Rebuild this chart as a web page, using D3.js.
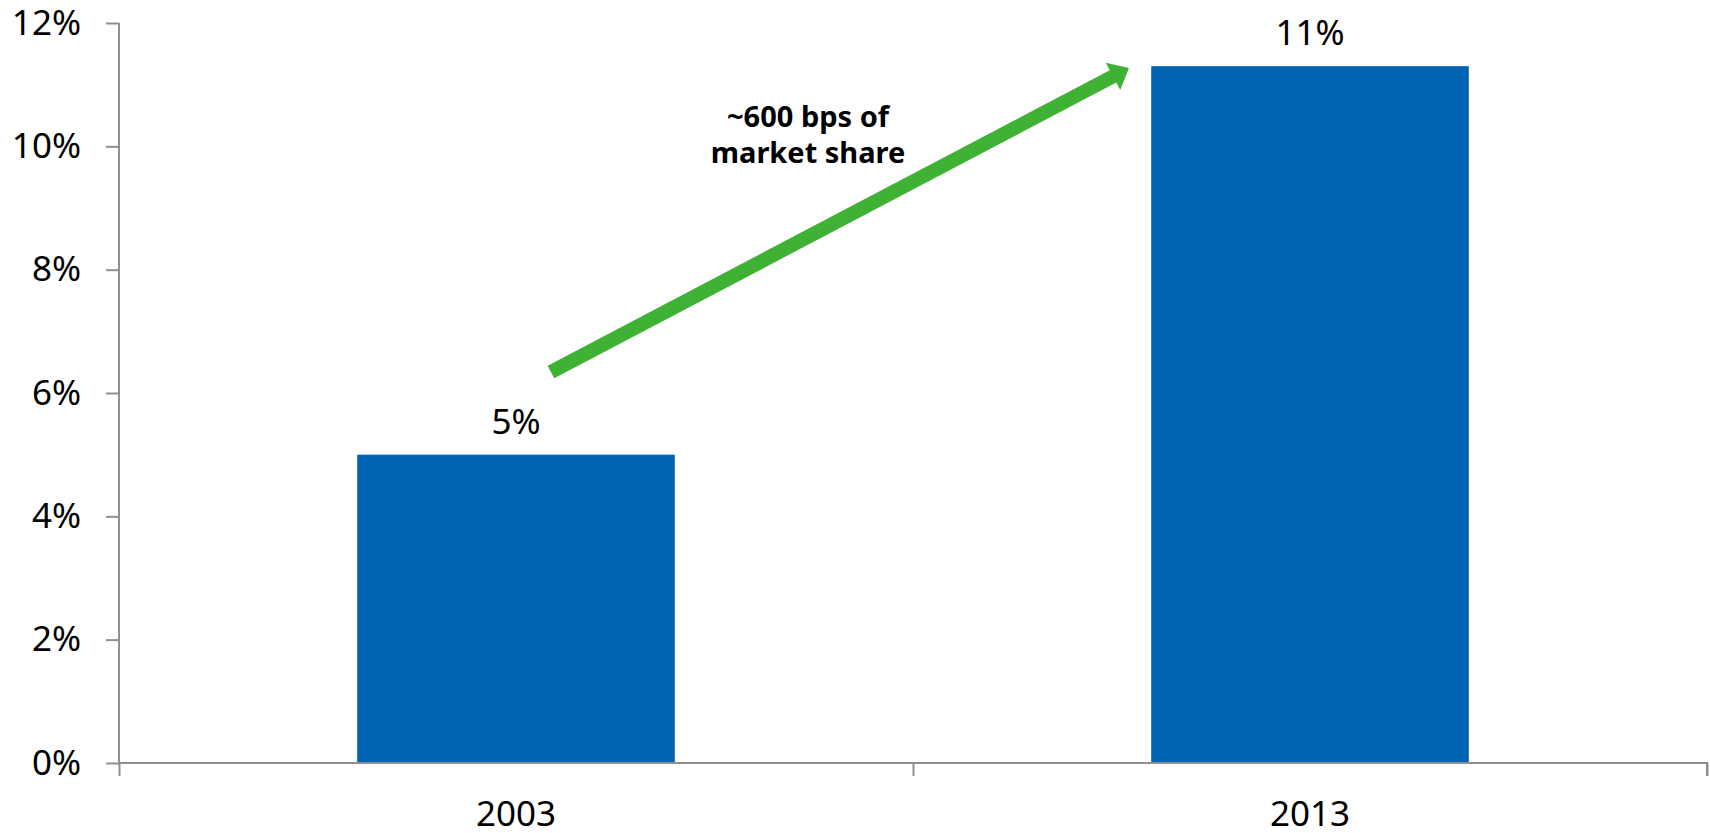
<!DOCTYPE html>
<html>
<head>
<meta charset="utf-8">
<script src="https://cdn.jsdelivr.net/npm/d3@7"></script>
<style>
  body { margin: 0; background: #fff; }
  text { font-family: "Noto Sans", "Open Sans", sans-serif; }
</style>
</head>
<body>
<div id="chart"></div>
<script>
// data
const years = ["2003", "2013"];
const shares = [5.0, 11.3];
const shareLabels = ["5%", "11%"];
const yTicks = [0, 2, 4, 6, 8, 10, 12];
const noteLines = ["~600 bps of", "market share"];
// arrow from/to: [fraction along x range, value]
const arrowFrom = [0.272, 6.34];
const arrowTo = [0.636, 11.27];

const width = 1710, height = 833;
const margin = { top: 23, right: 3, bottom: 70, left: 119 };
const chartWidth = width - margin.left - margin.right;
const chartHeight = height - margin.top - margin.bottom;

const svg = d3.select("#chart")
    .append("svg")
    .attr("width", width)
    .attr("height", height)
    .append("g")
    .attr("transform", `translate(${margin.left}, ${margin.top})`);

const xScale = d3.scaleBand()
    .domain(years)
    .range([0, chartWidth])
    .padding(0);
const barWidth = xScale.bandwidth() * 0.4;

const yScale = d3.scaleLinear()
    .domain([0, 12])
    .range([chartHeight, 0]);

const axisColor = "#8f8f8f";

// y axis
const yAxis = svg.append("g")
    .call(d3.axisLeft(yScale)
        .tickValues(yTicks)
        .tickSize(13)
        .tickPadding(25)
        .tickFormat(d => d + "%"));
yAxis.selectAll("path, line").attr("stroke", axisColor).attr("stroke-width", 2);
yAxis.select(".domain").attr("d", `M0,${chartHeight}V0`);
yAxis.selectAll("text").attr("font-size", 35).attr("fill", "#000");

// bars
svg.selectAll(".bar")
    .data(years)
    .enter()
    .append("rect")
    .attr("class", "bar")
    .attr("x", d => xScale(d) + (xScale.bandwidth() - barWidth) / 2)
    .attr("y", (d, i) => yScale(shares[i]))
    .attr("width", barWidth)
    .attr("height", (d, i) => chartHeight - yScale(shares[i]))
    .attr("fill", "#0064b2");

// x axis: boundary ticks
const xEdges = d3.scaleLinear().domain([0, years.length]).range([0, chartWidth]);
const xAxis = svg.append("g")
    .attr("transform", `translate(0, ${chartHeight})`)
    .call(d3.axisBottom(xEdges)
        .tickValues(d3.range(years.length + 1))
        .tickSize(13)
        .tickSizeOuter(13)
        .tickFormat(""));
xAxis.selectAll("path, line").attr("stroke", axisColor).attr("stroke-width", 2);
xAxis.select(".domain").attr("d", `M0,0H${chartWidth}V13`);

// x labels at band centres
const xLabels = svg.append("g")
    .attr("transform", `translate(0, ${chartHeight})`)
    .call(d3.axisBottom(xScale).tickSize(0).tickPadding(38));
xLabels.select(".domain").remove();
xLabels.selectAll("text").attr("font-size", 35).attr("fill", "#000");

// value labels
svg.selectAll(".value")
    .data(years)
    .enter()
    .append("text")
    .attr("class", "value")
    .attr("x", d => xScale(d) + xScale.bandwidth() / 2)
    .attr("y", (d, i) => yScale(shares[i]) - 21)
    .attr("text-anchor", "middle")
    .attr("font-size", 35)
    .text((d, i) => shareLabels[i]);

// green arrow
const x0 = arrowFrom[0] * chartWidth, y0 = yScale(arrowFrom[1]);
const x1 = arrowTo[0] * chartWidth, y1 = yScale(arrowTo[1]);
const len = Math.hypot(x1 - x0, y1 - y0);
const ang = Math.atan2(y1 - y0, x1 - x0) * 180 / Math.PI;
const shaftW = 14, headL = 18, headW = 31;
svg.append("path")
    .attr("transform", `translate(${x0}, ${y0}) rotate(${ang})`)
    .attr("d", `M0,${-shaftW / 2}H${len - headL}V${-headW / 2}L${len},0L${len - headL},${headW / 2}V${shaftW / 2}H0Z`)
    .attr("fill", "#3fb134");

// annotation, one text per line
svg.selectAll(".note")
    .data(noteLines)
    .enter()
    .append("text")
    .attr("class", "note")
    .attr("text-anchor", "middle")
    .attr("font-size", 29)
    .attr("font-weight", "bold")
    .attr("x", 808 - margin.left)
    .attr("y", (d, i) => 127 - margin.top + i * 36)
    .text(d => d);
</script>
</body>
</html>
